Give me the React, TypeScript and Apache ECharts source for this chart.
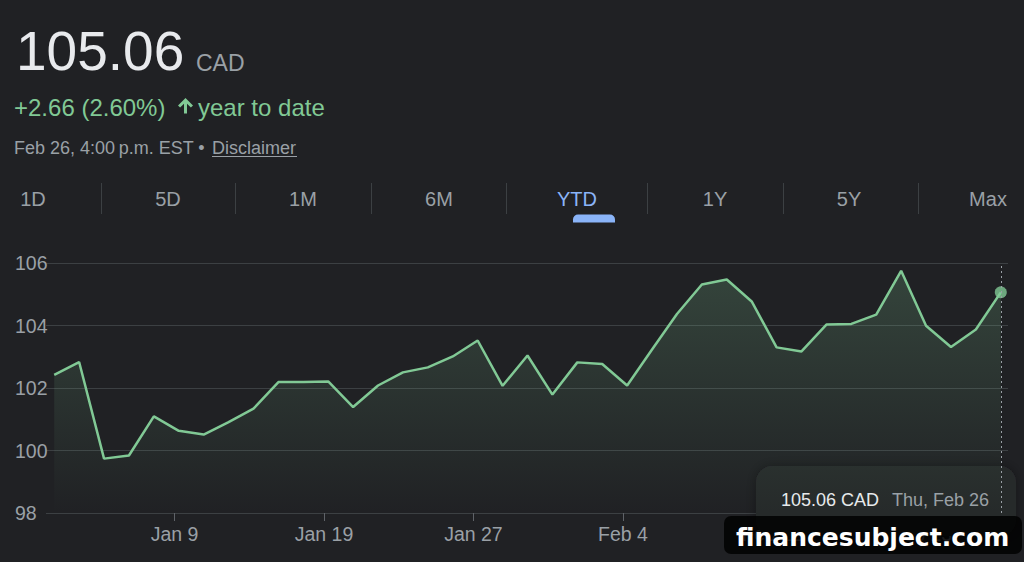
import React, { useEffect, useRef } from "react";
import * as echarts from "echarts";

// ---- data ----
const dates: string[] = [
  "Jan 2", "Jan 5", "Jan 6", "Jan 7", "Jan 8", "Jan 9", "Jan 12", "Jan 13", "Jan 14", "Jan 15",
  "Jan 16", "Jan 19", "Jan 20", "Jan 21", "Jan 22", "Jan 23", "Jan 26", "Jan 27", "Jan 28", "Jan 29",
  "Jan 30", "Feb 2", "Feb 3", "Feb 4", "Feb 5", "Feb 6", "Feb 9", "Feb 10", "Feb 11", "Feb 12",
  "Feb 13", "Feb 17", "Feb 18", "Feb 19", "Feb 20", "Feb 23", "Feb 24", "Feb 25", "Feb 26",
];
const closes: number[] = [
  102.42, 102.83, 99.74, 99.84, 101.09, 100.63, 100.51, 100.91, 101.34, 102.19,
  102.19, 102.21, 101.39, 102.08, 102.5, 102.66, 103.01, 103.52, 102.07, 103.04,
  101.79, 102.82, 102.77, 102.08, 103.23, 104.37, 105.31, 105.47, 104.77, 103.3,
  103.17, 104.03, 104.05, 104.35, 105.75, 103.99, 103.31, 103.87, 105.06,
];
const xTickLabels: string[] = ["Jan 9", "Jan 19", "Jan 27", "Feb 4", "Feb 12", "Feb 23"];
const yTicks: number[] = [98, 100, 102, 104, 106];
const tabs: string[] = ["1D", "5D", "1M", "6M", "YTD", "1Y", "5Y", "Max"];
const activeTab = "YTD";

const FONT = "'Liberation Sans', Arial, sans-serif";
const GREEN = "#81c995";
const GREY = "#9aa0a6";
const BG = "#202124";

export default function App() {
  const ref = useRef<HTMLDivElement>(null);
  useEffect(() => {
    if (!ref.current) return;
    const chart = echarts.init(ref.current, null, { renderer: "svg" });
    const lastIdx = closes.length - 1;
    const seriesData = closes.map((v, i) => [i, v]);
    // date ticks sit slightly before the day's closing point
    const tickIdx = xTickLabels.map((l) => dates.indexOf(l) - 0.17);

    const tabCenters = [33, 168, 303, 439, 577, 715, 849, 988];
    const seps = [101, 235, 371, 506, 647, 783, 918];

    const elements: any[] = [
      { type: "text", x: 16, y: 51, style: { text: "105.06", fontSize: 55, fill: "#e8eaed", fontFamily: FONT, align: "left", verticalAlign: "middle" } },
      { type: "text", x: 196, y: 63, style: { text: "CAD", fontSize: 23, fill: GREY, fontFamily: FONT, align: "left", verticalAlign: "middle" } },
      { type: "text", x: 14, y: 107, style: { text: "+2.66 (2.60%)", fontSize: 24, fill: GREEN, fontFamily: FONT, align: "left", verticalAlign: "middle" } },
      {
        type: "polygon",
        shape: { points: [[185.5, 98], [193, 105.5], [190.9, 107.6], [187, 103.7], [187, 113.5], [184, 113.5], [184, 103.7], [180.1, 107.6], [178, 105.5]] },
        style: { fill: GREEN },
      },
      { type: "text", x: 198, y: 107, style: { text: "year to date", fontSize: 24, fill: GREEN, fontFamily: FONT, align: "left", verticalAlign: "middle" } },
      { type: "text", x: 14, y: 147.5, style: { text: "Feb 26, 4:00\u2009p.m. EST \u2022", fontSize: 18, fill: GREY, fontFamily: FONT, align: "left", verticalAlign: "middle" } },
      { type: "text", x: 212, y: 147.5, style: { text: "Disclaimer", fontSize: 18, fill: GREY, fontFamily: FONT, align: "left", verticalAlign: "middle" } },
      { type: "line", shape: { x1: 212, y1: 156.5, x2: 297, y2: 156.5 }, style: { stroke: GREY, lineWidth: 1 } },
      ...seps.map((x) => ({ type: "line", shape: { x1: x + 0.5, y1: 183, x2: x + 0.5, y2: 214 }, style: { stroke: "#3c4043", lineWidth: 1 } })),
      ...tabs.map((t, i) => ({
        type: "text",
        x: tabCenters[i],
        y: 199,
        style: { text: t, fontSize: 20, fill: t === activeTab ? "#8ab4f8" : GREY, fontFamily: FONT, align: "center", verticalAlign: "middle" },
      })),
      { type: "rect", shape: { x: 573, y: 214.5, width: 42, height: 8, r: [5, 5, 0, 0] }, style: { fill: "#8ab4f8" } },
      // tooltip card
      {
        type: "rect",
        z: 1,
        shape: { x: 756, y: 466, width: 260, height: 70, r: 16 },
        style: { fill: "#28292c", shadowColor: "rgba(0,0,0,0.35)", shadowBlur: 12 },
      },
      { type: "text", z: 1, x: 781, y: 500, style: { text: "105.06 CAD", fontSize: 18, fill: "#e8eaed", fontFamily: FONT, align: "left", verticalAlign: "middle" } },
      { type: "text", z: 1, x: 892, y: 500, style: { text: "Thu, Feb 26", fontSize: 18, fill: GREY, fontFamily: FONT, align: "left", verticalAlign: "middle" } },
      // watermark
      { type: "rect", z: 100, shape: { x: 724, y: 516, width: 298, height: 38, r: 7 }, style: { fill: "rgba(0,0,0,0.82)" } },
      {
        type: "text",
        z: 101,
        x: 736,
        y: 537,
        style: {
          text: "financesubject.com",
          fontSize: 25,
          fontWeight: "bold",
          fill: "#ffffff",
          fontFamily: "'DejaVu Sans', sans-serif",
          align: "left",
          verticalAlign: "middle",
          shadowColor: "#000",
          shadowBlur: 2,
          shadowOffsetX: 2,
          shadowOffsetY: 2,
        },
      },
    ];

    chart.setOption({
      animation: false,
      backgroundColor: BG,
      grid: { left: 46, right: 16, top: 263, bottom: 49, containLabel: false, outerBoundsMode: "none" },
      xAxis: {
        type: "value",
        min: -0.33,
        max: 38.29,
        splitLine: { show: false },
        axisLine: { show: false },
        axisTick: { show: true, customValues: tickIdx, length: 8, lineStyle: { color: "#5f6368" } },
        axisLabel: {
          customValues: tickIdx,
          formatter: (v: number) => dates[Math.round(v)] ?? "",
          color: GREY,
          fontSize: 19.5,
          fontFamily: FONT,
          margin: 11,
        },
      },
      yAxis: {
        type: "value",
        min: yTicks[0],
        max: yTicks[yTicks.length - 1],
        interval: 2,
        axisLine: { show: false },
        axisTick: { show: false },
        axisLabel: { color: GREY, fontSize: 19.5, fontFamily: FONT, align: "left", margin: 31 },
        splitLine: { lineStyle: { color: "#3c4043", width: 1 } },
      },
      series: [
        {
          type: "line",
          data: seriesData,
          symbol: "none",
          lineStyle: { color: GREEN, width: 2.5 },
          areaStyle: {
            origin: "start",
            color: {
              type: "linear",
              x: 0, y: 0, x2: 0, y2: 1,
              colorStops: [
                { offset: 0, color: "rgba(129,201,149,0.30)" },
                { offset: 1, color: "rgba(129,201,149,0.0)" },
              ],
            },
          },
          markLine: {
            silent: true,
            symbol: ["none", "none"],
            label: { show: false },
            lineStyle: { color: "#9aa0a6", type: [2, 3], width: 1 },
            data: [{ xAxis: lastIdx }],
          },
          z: 3,
        },
        {
          type: "scatter",
          data: [[lastIdx, closes[lastIdx]]],
          symbol: "circle",
          symbolSize: 12,
          itemStyle: { color: GREEN },
          z: 4,
        },
      ],
      graphic: { elements },
    });
    return () => chart.dispose();
  }, []);
  return (
    <div
      ref={ref}
      style={{ position: "fixed", left: 0, top: 0, width: 1024, height: 562, background: BG }}
    />
  );
}
